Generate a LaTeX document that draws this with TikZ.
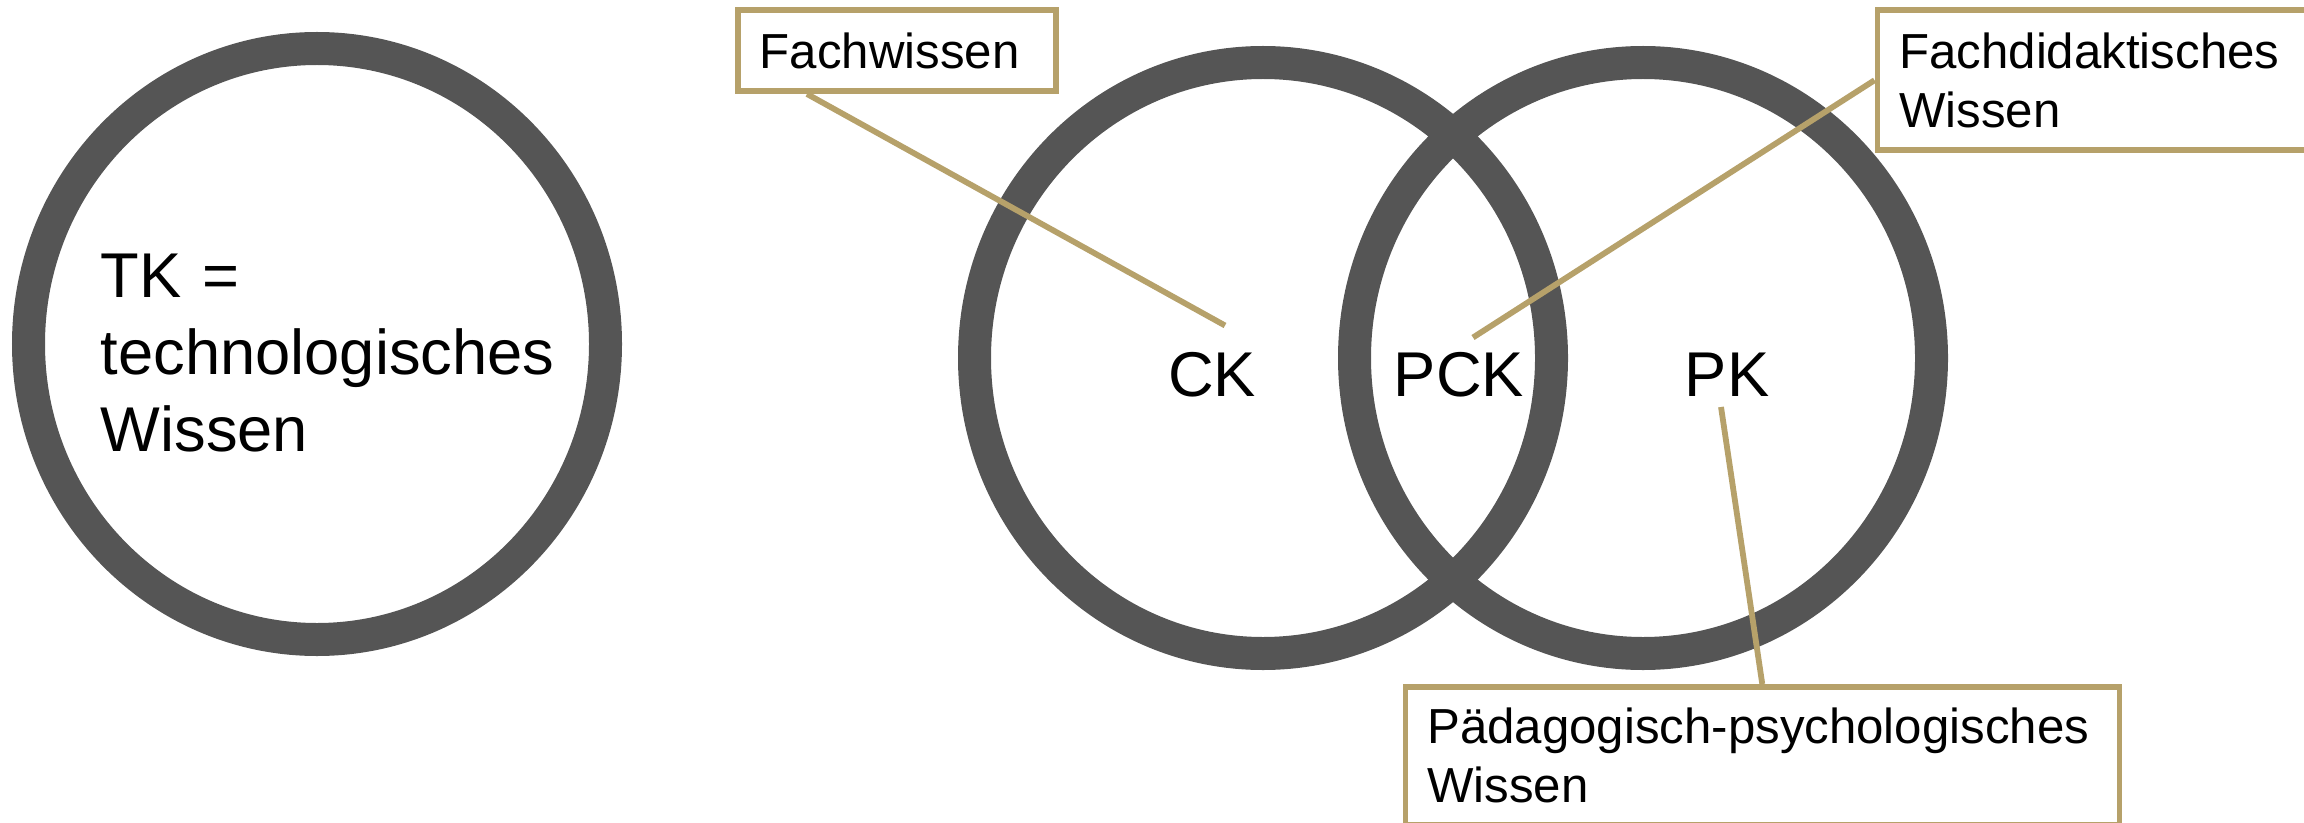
\documentclass[tikz,border=0pt]{standalone}
\usepackage{fontspec}
\setmainfont{Liberation Sans}
\usetikzlibrary{%
  positioning
 ,shapes
 ,calc
}
\definecolor{ringgray}{RGB}{85,85,85}
\definecolor{kgold}{RGB}{182,161,106}
\tikzstyle{ring}=[ellipse,draw=ringgray,line width=0.33cm,minimum width=5.77cm,minimum height=5.91cm,inner sep=0pt]
\tikzstyle{lbl}=[inner sep=0pt,font=\fontsize{18}{21.9}\selectfont]
\tikzstyle{box}=[rectangle,draw=kgold,line width=0.055cm,fill=white,anchor=north west,align=left,inner xsep=0.22cm,inner ysep=0pt,font=\fontsize{14}{16.8}\selectfont]
\tikzstyle{lead}=[draw=kgold,line width=0.058cm]

\begin{document}
\begin{tikzpicture}
  \useasboundingbox (0,0) rectangle (23.04,-8.23);
  % the knowledge areas
  \node[ring] (r_tk) at (3.17,-3.44) {};
  \node[ring] (r_ck) at (12.63,-3.58) {};
  \node[ring] (r_pk) at (16.43,-3.58) {};
  \node[lbl,text width=5cm,align=left,anchor=base west] (tk) at (1.00,-2.98) {TK =\\technologisches\\Wissen};
  \node[lbl,anchor=base] (ck) at (12.12,-3.96) {CK};
  \node[lbl,anchor=base] (pck) at (14.59,-3.96) {PCK};
  \node[lbl,anchor=base] (pk) at (17.27,-3.96) {PK};
  % callouts
  \node[box,text width=2.74cm,minimum height=0.81cm] (fach) at (7.35,-0.075) {Fachwissen};
  \node[box,text width=4.16cm,minimum height=1.40cm] (did) at (18.745,-0.075) {Fachdidaktisches\\Wissen};
  \node[box,text width=6.70cm,minimum height=1.375cm] (pada) at (14.025,-6.84) {Pädagogisch-psychologisches\\Wissen};
  \coordinate (ck_in) at (12.25,-3.255);
  \coordinate (pck_in) at (14.73,-3.375);
  \coordinate (pk_in) at (17.21,-4.07);
  \draw[lead] ([xshift=0.72cm]fach.south west) -- (ck_in);
  \draw[lead] (did.west) -- (pck_in);
  \draw[lead] (pada.north) -- (pk_in);
\end{tikzpicture}
\end{document}
